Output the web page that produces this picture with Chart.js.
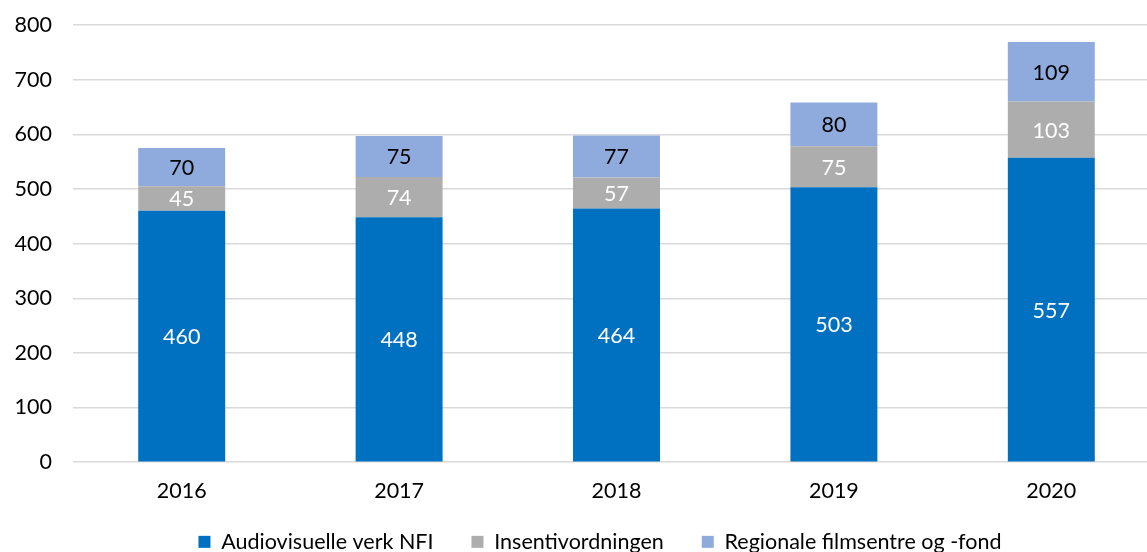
<!DOCTYPE html>
<html>
<head>
<meta charset="utf-8">
<script src="https://cdn.jsdelivr.net/npm/chart.js@4"></script>
<style>
html,body{margin:0;padding:0;background:#fff;overflow:hidden;width:1147px;height:552px;}
#wrap{width:1160px;height:552px;position:relative;}
</style>
</head>
<body>
<div id="wrap"><canvas id="c"></canvas></div>
<script>
const categories = ["2016", "2017", "2018", "2019", "2020"];
const audiovisuelle = [460, 448, 464, 503, 557];
const insentiv = [45, 74, 57, 75, 103];
const regionale = [70, 75, 77, 80, 109];
const seriesNames = ["Audiovisuelle verk NFI", "Insentivordningen", "Regionale filmsentre og -fond"];
const yTicks = [0, 100, 200, 300, 400, 500, 600, 700, 800];

const FONT = "Lato, 'Open Sans', sans-serif";
const FS = 21.5;
const colors = ["#0070C0", "#ADADAD", "#8FAADC"];
const labelColors = ["#ffffff", "#ffffff", "#000000"];

const valueLabels = {
  id: 'valueLabels',
  afterDatasetsDraw(chart) {
    const ctx = chart.ctx;
    ctx.save();
    ctx.font = FS + "px " + FONT;
    ctx.textAlign = 'center';
    ctx.textBaseline = 'middle';
    chart.data.datasets.forEach((ds, i) => {
      const meta = chart.getDatasetMeta(i);
      meta.data.forEach((bar, j) => {
        ctx.fillStyle = labelColors[i];
        ctx.fillText(String(ds.data[j]), bar.x, (bar.y + bar.base) / 2 + 1);
      });
    });
    ctx.restore();
  }
};

const LEGEND_H = 40;
const LEGEND_CENTER_Y = 544;
const LEGEND_SHIFT_X = 20;
const legendPlace = {
  id: 'legendPlace',
  beforeLayout(chart) {
    const l = chart.legend;
    if (l && !l._patchedFit) {
      const orig = l.fit.bind(l);
      l.fit = function () { orig(); this.height = LEGEND_H; };
      l._patchedFit = true;
    }
  },
  afterLayout(chart) {
    const l = chart.legend;
    if (!l) return;
    const pad = l.options.labels.padding;
    const ih = l._itemHeight || (FS * 1.2);
    l.top = LEGEND_CENTER_Y - pad - ih / 2;
    l.bottom = chart.height;
    l.left += LEGEND_SHIFT_X; l.right += LEGEND_SHIFT_X;
  }
};

new Chart(document.getElementById('c'), {
  type: 'bar',
  data: {
    labels: categories,
    datasets: [
      { label: seriesNames[0], data: audiovisuelle, backgroundColor: colors[0] },
      { label: seriesNames[1], data: insentiv, backgroundColor: colors[1] },
      { label: seriesNames[2], data: regionale, backgroundColor: colors[2] }
    ]
  },
  options: {
    responsive: true,
    maintainAspectRatio: false,
    animation: false,
    layout: { padding: { top: 25, left: 0, right: 0, bottom: 0 } },
    datasets: { bar: { categoryPercentage: 1, barPercentage: 0.4, borderWidth: 0 } },
    plugins: {
      legend: {
        position: 'bottom',
        labels: {
          font: { family: FONT, size: FS },
          color: '#000',
          boxWidth: 12, boxHeight: 12,
          padding: 38
        }
      },
      tooltip: { enabled: false }
    },
    scales: {
      x: {
        stacked: true,
        grid: { display: false },
        border: { display: false },
        ticks: { font: { family: FONT, size: FS }, color: '#000', padding: 8, maxRotation: 0, autoSkip: false }
      },
      y: {
        stacked: true,
        min: 0, max: 800,
        afterBuildTicks(scale) { scale.ticks = yTicks.map(v => ({ value: v })); },
        afterFit(scale) { scale.width = 73; scale.paddingTop = 0; scale.paddingBottom = 0; },
        grid: { color: '#D9D9D9', lineWidth: 1.5, drawTicks: false },
        border: { display: false },
        ticks: { font: { family: FONT, size: FS }, color: '#000', padding: 21 }
      }
    }
  },
  plugins: [valueLabels, legendPlace]
});
</script>
</body>
</html>
